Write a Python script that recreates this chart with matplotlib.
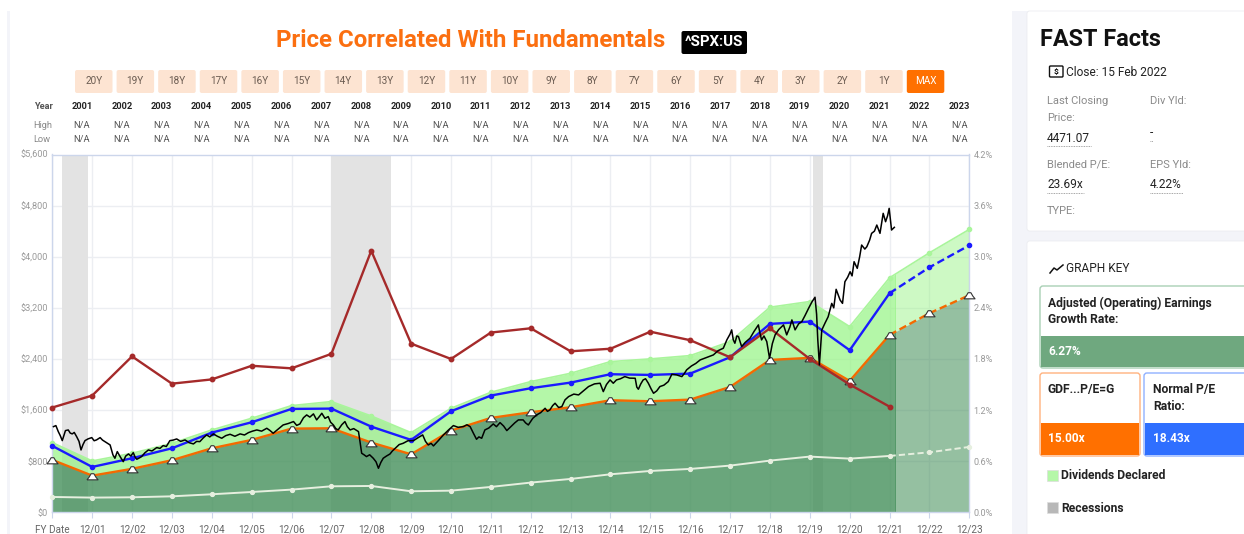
import matplotlib
matplotlib.use("Agg")
import matplotlib.pyplot as plt
from matplotlib.patches import FancyBboxPatch, Rectangle

W, H = 1244, 534

fy_labels = ["FY Date"] + ["12/%02d" % y for y in range(1, 24)]
years = [str(y) for y in range(2001, 2024)]
buttons = ["%dY" % n for n in range(20, 0, -1)] + ["MAX"]
fy_pos = list(range(24))

# fundamentals, one value per fiscal year
gdf_earn = [820, 574, 680, 815, 1002, 1133, 1310, 1315, 1091, 908, 1279, 1477,
            1566, 1644, 1754, 1738, 1764, 1962, 2385, 2417, 2056, 2777, 3116, 3398]
normal_pe = [1039, 710, 846, 1002, 1247, 1409, 1618, 1623, 1341, 1133, 1581, 1827,
             1942, 2030, 2161, 2150, 2171, 2427, 2949, 2985, 2537, 3429, 3834, 4178]
with_divs = [1091, 804, 924, 1080, 1289, 1472, 1670, 1733, 1508, 1247, 1628, 1879,
             2046, 2176, 2359, 2401, 2453, 2672, 3210, 3299, 2907, 3671, 4062, 4428]
dividends = [240, 230, 235, 250, 282, 318, 355, 407, 412, 329, 339, 397,
             465, 522, 595, 647, 679, 731, 809, 872, 840, 882, 939, 1023]
div_yield = [1.23, 1.37, 1.83, 1.51, 1.56, 1.72, 1.69, 1.86, 3.07, 1.98, 1.80, 2.11,
             2.16, 1.89, 1.92, 2.12, 2.02, 1.82, 2.16, 1.80, 1.50, 1.24]

# price line, position in fiscal years since 12/00
price_x = [.03, .09, .15, .20, .25, .33, .40, .45, .50, .55,
           .61, .67, .72, .77, .82, .90, .99, 1.05, 1.11, 1.20,
           1.26, 1.32, 1.38, 1.45, 1.52, 1.57, 1.63, 1.70, 1.78, 1.84,
           1.91, 1.97, 2.03, 2.08, 2.12, 2.18, 2.24, 2.32, 2.41, 2.50,
           2.62, 2.70, 2.78, 2.86, 2.95, 3.03, 3.12, 3.22, 3.33, 3.43,
           3.54, 3.62, 3.70, 3.78, 3.87, 3.95, 4.04, 4.14, 4.25, 4.35,
           4.46, 4.58, 4.71, 4.82, 4.92, 5.02, 5.13, 5.25, 5.38, 5.46,
           5.54, 5.66, 5.79, 5.92, 6.05, 6.13, 6.21, 6.30, 6.38, 6.46,
           6.55, 6.63, 6.70, 6.76, 6.84, 6.92, 6.98, 7.05, 7.11, 7.17,
           7.26, 7.34, 7.40, 7.47, 7.56, 7.68, 7.72, 7.76, 7.82, 7.88,
           7.96, 8.05, 8.12, 8.18, 8.24, 8.30, 8.38, 8.47, 8.53, 8.60,
           8.70, 8.80, 8.92, 9.06, 9.18, 9.29, 9.36, 9.43, 9.50, 9.56,
           9.68, 9.81, 9.94, 10.06, 10.18, 10.31, 10.40, 10.48, 10.56, 10.64,
           10.70, 10.77, 10.85, 10.95, 11.06, 11.14, 11.23, 11.32, 11.40, 11.50,
           11.60, 11.69, 11.81, 11.87, 11.94, 12.05, 12.15, 12.25, 12.36, 12.42,
           12.48, 12.55, 12.61, 12.70, 12.78, 12.86, 12.95, 13.08, 13.20, 13.32,
           13.45, 13.60, 13.74, 13.82, 13.90, 13.99, 14.07, 14.15, 14.25, 14.36,
           14.48, 14.62, 14.66, 14.70, 14.76, 14.82, 14.88, 14.95, 15.02, 15.08,
           15.16, 15.24, 15.34, 15.45, 15.54, 15.66, 15.79, 15.85, 15.91, 16.03,
           16.14, 16.25, 16.40, 16.58, 16.70, 16.83, 16.92, 17.00, 17.04, 17.08,
           17.12, 17.17, 17.21, 17.29, 17.38, 17.50, 17.60, 17.71, 17.75, 17.79,
           17.85, 17.92, 17.99, 18.06, 18.13, 18.22, 18.34, 18.42, 18.50, 18.55,
           18.63, 18.72, 18.80, 18.88, 18.97, 19.05, 19.13, 19.17, 19.20, 19.24,
           19.30, 19.38, 19.46, 19.55, 19.60, 19.66, 19.76, 19.82, 19.88, 19.95,
           20.01, 20.06, 20.11, 20.19, 20.25, 20.30, 20.38, 20.43, 20.50, 20.55,
           20.62, 20.68, 20.76, 20.84, 20.90, 20.95, 20.99, 21.05, 21.12]
price_y = [1341, 1357, 1263, 1200, 1122, 1279, 1289, 1240, 1227, 1250,
           1185, 1110, 976, 1060, 1122, 1150, 1169, 1120, 1133, 1169,
           1130, 1106, 1080, 1054, 900, 846, 950, 872, 793, 880,
           913, 880, 934, 860, 830, 850, 872, 930, 976, 960,
           1013, 1000, 1044, 1030, 1122, 1130, 1148, 1110, 1133, 1090,
           1070, 1110, 1106, 1160, 1211, 1180, 1227, 1190, 1159, 1200,
           1221, 1190, 1227, 1210, 1247, 1270, 1289, 1270, 1315, 1280,
           1237, 1300, 1367, 1390, 1420, 1360, 1383, 1480, 1524, 1490,
           1540, 1446, 1500, 1550, 1470, 1498, 1410, 1367, 1310, 1289,
           1370, 1420, 1340, 1289, 1310, 1263, 1090, 924, 900, 872,
           900, 846, 790, 689, 780, 846, 880, 913, 960, 1002,
           1060, 1080, 1120, 1122, 1170, 1211, 1110, 1054, 1080, 1039,
           1120, 1211, 1290, 1357, 1330, 1341, 1370, 1341, 1240, 1143,
           1180, 1159, 1289, 1320, 1383, 1340, 1404, 1350, 1279, 1340,
           1400, 1446, 1446, 1400, 1367, 1470, 1524, 1560, 1628, 1580,
           1602, 1670, 1707, 1640, 1654, 1760, 1811, 1850, 1837, 1900,
           1968, 2010, 2020, 1889, 2000, 2072, 2020, 2072, 2090, 2124,
           2100, 2098, 1960, 1926, 2010, 2072, 2090, 2020, 1930, 1863,
           1900, 1968, 1990, 2046, 2161, 2150, 2124, 2170, 2229, 2290,
           2330, 2385, 2420, 2463, 2530, 2568, 2700, 2790, 2855, 2700,
           2646, 2760, 2751, 2594, 2660, 2724, 2830, 2933, 2800, 2698,
           2760, 2672, 2411, 2640, 2777, 2860, 2933, 2777, 2900, 3011,
           2855, 2950, 2985, 3080, 3194, 3290, 3366, 3100, 2698, 2307,
           2853, 2960, 3061, 3270, 3200, 3490, 3322, 3270, 3609, 3680,
           3765, 3700, 3922, 3818, 4000, 4183, 4120, 4157, 4260, 4366,
           4400, 4496, 4366, 4679, 4548, 4640, 4757, 4418, 4460]

recessions = [(0.25, 0.90), (6.99, 8.49), (19.09, 19.32)]
forecast_start = 21.13
last_actual = 21

usd_ticks = [0, 800, 1600, 2400, 3200, 4000, 4800, 5600]
pct_ticks = [0.0, 0.6, 1.2, 1.8, 2.4, 3.0, 3.6, 4.2]

C_ORANGE = "#f46a00"
C_BLUE = "#1a1aff"
C_RED = "#a52a2a"
C_TOP = "#a9f59b"
C_WHITE = "#e6efdf"
C_EDGE = "#ccd6eb"
C_GRID = "#eceef2"

# hump shaped marker sitting on the earnings line
HUMP = [(-1, -.6), (-.6, -.1), (-.25, .5), (.25, .5), (.6, -.1), (1, -.6), (-1, -.6)]

plt.rcParams["font.family"] = ["Roboto", "DejaVu Sans"]

fig = plt.figure(figsize=(W / 100, H / 100), dpi=100, facecolor="white")

# page overlay in pixel coordinates
bg = fig.add_axes([0, 0, 1, 1])
bg.set_xlim(0, W)
bg.set_ylim(H, 0)
bg.axis("off")


def box(x0, y0, x1, y1, color, ec="none", lw=0, pad=2.5, target=bg, z=1):
    p = FancyBboxPatch((x0 + pad, y0 + pad), x1 - x0 - 2 * pad, y1 - y0 - 2 * pad,
                       boxstyle="round,pad=%g,rounding_size=%g" % (pad, pad),
                       fc=color, ec=ec, lw=lw, zorder=z)
    target.add_patch(p)


def label(x, y, s, size=7.2, color="#555555", weight="normal", ha="left", z=5):
    bg.text(x, y, s, fontsize=size, color=color, fontweight=weight, ha=ha, va="center", zorder=z)


bg.add_patch(Rectangle((7, 11), 3, H - 11, fc="#f3f4f9", ec="none"))
bg.add_patch(Rectangle((1012, 11), W - 1012, H - 11, fc="#f3f4f9", ec="none"))
box(1027, 11, W + 6, 231, "white", ec="#e9eaee", lw=0.5)
box(1027, 241, W + 6, H + 6, "white", ec="#e9eaee", lw=0.5)

# header over the chart
label(471, 40.5, "Price Correlated With Fundamentals", size=17.25, color="#fb6f10", weight="bold", ha="center")
box(681.5, 31, 747, 54, "black", pad=2)
label(714, 42.5, "^SPX:US", size=10.8, color="white", weight="bold", ha="center")

for i, b in enumerate(buttons):
    x0 = 75 + i * 41.59
    active = b == "MAX"
    box(x0, 70, x0 + 37.5, 93, "#ff7000" if active else "#fde4d2", pad=2)
    label(x0 + 18.7, 81.5, b, size=7.2, color="white" if active else "#6b5c52", ha="center")

label(43, 106.5, "Year", size=6.7, color="#555555", weight="bold", ha="center")
label(43, 126, "High", size=6.7, color="#888888", ha="center")
label(42, 139.5, "Low", size=6.7, color="#888888", ha="center")
for i, yr in enumerate(years):
    cx = 82 + i * 39.87
    label(cx, 106.5, yr, size=6.7, color="#222222", weight="bold", ha="center")
    label(cx, 126, "N/A", size=6.7, color="#555555", ha="center")
    label(cx, 139.5, "N/A", size=6.7, color="#555555", ha="center")

# chart
left, right, top, bottom = 52.3, 969.3, 154.5, 512.3
ax = fig.add_axes([left / W, 1 - bottom / H, (right - left) / W, (bottom - top) / H])
ax.patch.set_alpha(0)
ax.set_xlim(0, 23)
ax.set_ylim(0, 5600)
ax.set_xticks(fy_pos, fy_labels)
ax.set_yticks(usd_ticks, ["$%s" % format(v, ",") for v in usd_ticks])
ax.grid(True, color=C_GRID, lw=1)
ax.set_axisbelow(True)
ax.tick_params(axis="x", length=4, width=0.8, color=C_EDGE, labelsize=7.2, labelcolor="#666666", pad=5)
ax.tick_params(axis="y", length=0, labelsize=6.6, labelcolor="#999999", pad=3)
for s in ax.spines.values():
    s.set_color(C_EDGE)
    s.set_linewidth(1)

for r0, r1 in recessions:
    ax.axvspan(r0, r1, color="#e3e3e3", lw=0, zorder=1)


def split_fill(y0, y1, color, a_actual, a_forecast):
    # same polygon twice, clipped at the start of the estimates
    past = ax.fill_between(fy_pos, y0, y1, color=color, alpha=a_actual, lw=0, zorder=2)
    past.set_clip_path(Rectangle((0, 0), forecast_start, 5600, transform=ax.transData))
    future = ax.fill_between(fy_pos, y0, y1, color=color, alpha=a_forecast, lw=0, zorder=2)
    future.set_clip_path(Rectangle((forecast_start, 0), 23 - forecast_start, 5600, transform=ax.transData))


split_fill(gdf_earn, with_divs, "#95f483", 0.70, 0.47)
split_fill([0] * 24, gdf_earn, "#45905b", 0.80, 0.57)

ax.plot(fy_pos, with_divs, color=C_TOP, lw=1.2, marker="o", ms=3, zorder=3, clip_on=False)


def solid_dashed(y, color, lw, ms):
    n = last_actual
    ax.plot(fy_pos[:n + 1], y[:n + 1], color=color, lw=lw, solid_capstyle="round", zorder=4)
    ax.plot(fy_pos[n:], y[n:], color=color, lw=lw, dashes=(3.2, 1.6), zorder=4)
    if ms:
        ax.plot(fy_pos, y, ls="none", marker="o", ms=ms, color=color, zorder=4, clip_on=False)


solid_dashed(dividends, C_WHITE, 1.4, 2.8)
solid_dashed(gdf_earn, C_ORANGE, 1.7, 0)
solid_dashed(normal_pe, C_BLUE, 1.7, 3)
ax.plot(fy_pos, gdf_earn, ls="none", marker=HUMP, ms=8, mfc="white", mec="#333333", mew=0.8,
        zorder=5, clip_on=False)

ax2 = ax.twinx()
ax2.set_ylim(0, 4.2)
ax2.set_yticks(pct_ticks, ["%.1f%%" % v for v in pct_ticks])
ax2.tick_params(axis="y", length=0, labelsize=6.6, labelcolor="#999999", pad=3)
for s in ax2.spines.values():
    s.set_visible(False)
ax2.plot(fy_pos[:len(div_yield)], div_yield, color=C_RED, lw=1.7, marker="o", ms=3.2, zorder=4, clip_on=False)
ax2.plot(price_x, price_y, color="black", lw=1.1, transform=ax.transData, zorder=6)
ax2.set_ylim(0, 4.2)

# FAST Facts card
label(1040, 40, "FAST Facts", size=16.8, color="#111111", weight="bold")
box(1049.5, 66, 1063, 77, "white", ec="#111111", lw=1, pad=1)
label(1056.2, 71.7, "$", size=6, color="#111111", weight="bold", ha="center")
label(1066, 72, "Close: 15 Feb 2022", size=8.6, color="#222222")
gray = "#8a8a8a"
label(1047, 101, "Last Closing", size=8, color=gray)
label(1047, 118, "Price:", size=8, color=gray)
label(1150, 101, "Div Yld:", size=8, color=gray)
label(1047, 138, "4471.07", size=8.6, color="#222222")
label(1150, 133, "-", size=8.6, color="#222222")
label(1047, 165, "Blended P/E:", size=8, color=gray)
label(1150, 165, "EPS Yld:", size=8, color=gray)
label(1047, 185, "23.69x", size=8.6, color="#222222")
label(1150, 185, "4.22%", size=8.6, color="#222222")
label(1047, 211, "TYPE:", size=8, color=gray)
for x0, x1, y in [(1047, 1091, 146), (1150, 1153, 141), (1047, 1084, 193), (1150, 1183, 193)]:
    bg.plot([x0, x1], [y, y], color="#888888", lw=0.6, ls=(0, (1, 1)), zorder=5)

# graph key card
bg.plot([1050, 1054, 1057, 1063], [273, 268, 270, 265], color="#111111", lw=1.1, zorder=5)
label(1066, 269, "GRAPH KEY", size=8.6, color="#222222")


def key_box(x0, x1, y0, y_fill, y1, color, edge):
    box(x0, y0, x1, y1, "white", ec=edge, lw=1, pad=3, z=2)
    bg.add_patch(Rectangle((x0 + 1, y_fill), x1 - x0 - 2, y1 - y_fill - 1, fc=color, ec="none", zorder=3))


key_box(1040, W + 8, 286, 336, 368, "#6fa87f", "#a9d0b5")
key_box(1040, 1140, 373, 423, 456, "#ff7000", "#ffb27f")
key_box(1144, W + 8, 373, 423, 456, "#2f6fff", "#8fb0ff")
label(1048, 303, "Adjusted (Operating) Earnings", size=8.7, color="#222222", weight="bold")
label(1048, 319.5, "Growth Rate:", size=8.7, color="#222222", weight="bold")
label(1048, 351.5, "6.27%", size=8.6, color="white", weight="bold")
label(1048, 390, "GDF...P/E=G", size=8.7, color="#222222", weight="bold")
label(1048, 438.5, "15.00x", size=8.6, color="white", weight="bold")
label(1153, 390, "Normal P/E", size=8.7, color="#222222", weight="bold")
label(1153, 407, "Ratio:", size=8.7, color="#222222", weight="bold")
label(1153, 438.5, "18.43x", size=8.6, color="white", weight="bold")
bg.add_patch(Rectangle((1047, 470), 11, 11, fc="#b5f7a8", ec="#dddddd", lw=0.5, zorder=3))
bg.add_patch(Rectangle((1047, 502), 11, 11, fc="#b8b8b8", ec="#dddddd", lw=0.5, zorder=3))
label(1061, 475.5, "Dividends Declared", size=8.7, color="#222222", weight="bold")
label(1061, 508, "Recessions", size=8.7, color="#222222", weight="bold")

fig.savefig("out.png", dpi=100, facecolor="white")
